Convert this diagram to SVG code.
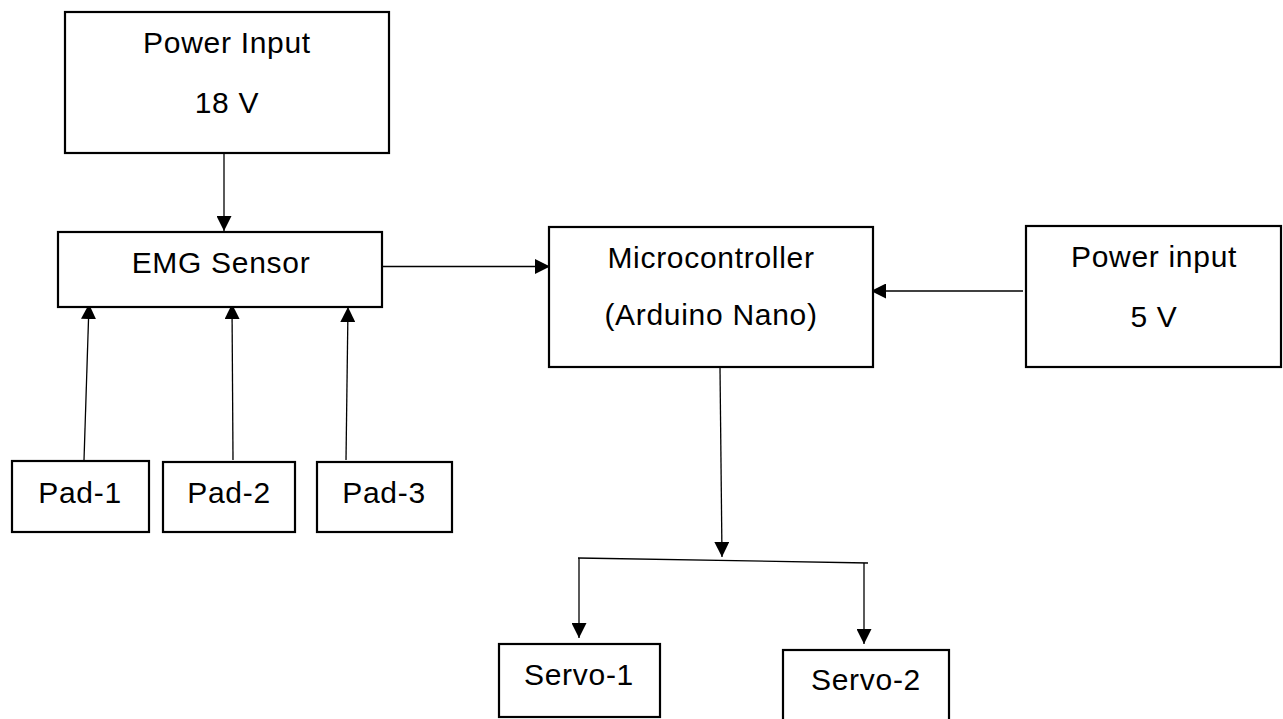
<svg xmlns="http://www.w3.org/2000/svg" width="1283" height="719" viewBox="0 0 1283 719">
<style>
.box{fill:#fff;stroke:#000;stroke-width:2.2}
.t{font-family:"Liberation Sans",Arial,sans-serif;font-size:30px;letter-spacing:0.7px;fill:#000;text-anchor:middle}
.c{stroke:#000;stroke-width:1.3;fill:none}
</style>
<defs>
<marker id="ah" viewBox="0 0 10 10" refX="10" refY="5" markerWidth="15" markerHeight="15" markerUnits="userSpaceOnUse" orient="auto">
<path d="M0,0 L10,5 L0,10 Z" fill="#000"/>
</marker>
</defs>
<rect width="1283" height="719" fill="#fff"/>
<g id="connectors">
<line class="c" x1="224" y1="152" x2="224" y2="231" marker-end="url(#ah)"/>
<line class="c" x1="377" y1="266.5" x2="550" y2="266.5" marker-end="url(#ah)"/>
<line class="c" x1="1023" y1="291" x2="871" y2="291" marker-end="url(#ah)"/>
<line class="c" x1="84" y1="460" x2="89" y2="304" marker-end="url(#ah)"/>
<line class="c" x1="233" y1="460" x2="232" y2="304" marker-end="url(#ah)"/>
<line class="c" x1="346" y1="460" x2="348" y2="307" marker-end="url(#ah)"/>
<line class="c" x1="720" y1="368" x2="722" y2="557" marker-end="url(#ah)"/>
<line class="c" x1="578" y1="558" x2="868" y2="563"/>
<line class="c" x1="579" y1="558" x2="579" y2="638" marker-end="url(#ah)"/>
<line class="c" x1="864" y1="563" x2="864" y2="644" marker-end="url(#ah)"/>
</g>
<g id="power18">
<rect class="box" x="65" y="12" width="324" height="141"/>
<text class="t" x="227" y="53">Power Input</text>
<text class="t" x="227" y="113">18 V</text>
</g>
<g id="emg">
<rect class="box" x="58" y="232" width="324" height="75"/>
<text class="t" x="221" y="273">EMG Sensor</text>
</g>
<g id="micro">
<rect class="box" x="549" y="227" width="324" height="140"/>
<text class="t" x="711" y="268">Microcontroller</text>
<text class="t" x="711" y="325">(Arduino Nano)</text>
</g>
<g id="power5">
<rect class="box" x="1026" y="226" width="255" height="141"/>
<text class="t" x="1154" y="267">Power input</text>
<text class="t" x="1154" y="327">5 V</text>
</g>
<g id="pad1">
<rect class="box" x="12" y="461" width="137" height="71"/>
<text class="t" x="80" y="503">Pad-1</text>
</g>
<g id="pad2">
<rect class="box" x="163" y="462" width="132" height="70"/>
<text class="t" x="229" y="503">Pad-2</text>
</g>
<g id="pad3">
<rect class="box" x="317" y="462" width="135" height="70"/>
<text class="t" x="384" y="503">Pad-3</text>
</g>
<g id="servo1">
<rect class="box" x="499" y="644" width="161" height="73"/>
<text class="t" x="579" y="685">Servo-1</text>
</g>
<g id="servo2">
<rect class="box" x="783" y="650" width="166" height="80"/>
<text class="t" x="866" y="690">Servo-2</text>
</g>
</svg>
